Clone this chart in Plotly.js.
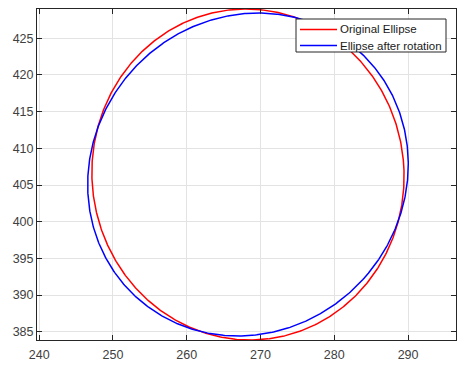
<!DOCTYPE html>
<html>
<head>
<meta charset="utf-8">
<script src="https://cdn.plot.ly/plotly-3.0.1.min.js"></script>
<style>
  html, body { margin: 0; padding: 0; background: #fff; }
  #plot { width: 457px; height: 365px; }
</style>
</head>
<body>
<div id="plot"></div>
<script>
// Ellipse definitions: centre, semi-axes and tilt of each curve
const seriesNames = ['Original Ellipse', 'Ellipse after rotation'];
const seriesColors = ['#ff0000', '#0000ff'];
const centerX = [268.3, 268.3];
const centerY = [406.43, 406.43];
const semiAxisX = [21.15, 21.15];
const semiAxisY = [22.56, 22.56];
const tiltDeg = [5.5, -39.5];

// Axis ticks
const xTicks = [240, 250, 260, 270, 280, 290];
const yTicks = [385, 390, 395, 400, 405, 410, 415, 420, 425];

// Trace the outline of an ellipse with the given parameters
function ellipseOutline(i, steps) {
  const th = tiltDeg[i] * Math.PI / 180;
  const c = Math.cos(th), s = Math.sin(th);
  const xs = [], ys = [];
  for (let k = 0; k <= steps; k++) {
    const t = 2 * Math.PI * k / steps;
    const u = semiAxisX[i] * Math.cos(t);
    const v = semiAxisY[i] * Math.sin(t);
    xs.push(centerX[i] + u * c - v * s);
    ys.push(centerY[i] + u * s + v * c);
  }
  return { xs, ys };
}

const traces = seriesNames.map((name, i) => {
  const o = ellipseOutline(i, 720);
  return {
    type: 'scatter',
    mode: 'lines',
    name: name,
    x: o.xs,
    y: o.ys,
    line: { color: seriesColors[i], width: 1.5 },
    showlegend: false
  };
});

// Figure geometry (pixels)
const W = 457, H = 365;
const M = { l: 37, r: 1, t: 9, b: 25 };
const plotW = W - M.l - M.r, plotH = H - M.t - M.b;
const px2x = p => (p - M.l) / plotW;
const px2y = p => 1 - (p - M.t) / plotH;

// Boxed legend in the upper right of the axes
const legendBox = { left: 296, right: 446, top: 19, bottom: 52 };
const legendRowY = [29.5, 45.5];
const legendLine = { x0: 300, x1: 337, textX: 339 };
const legendFont = { family: 'Liberation Sans, Arial, sans-serif', size: 11.5, color: '#1a1a1a' };

const shapes = [{
  type: 'rect', xref: 'paper', yref: 'paper', layer: 'above',
  x0: px2x(legendBox.left), x1: px2x(legendBox.right),
  y0: px2y(legendBox.bottom), y1: px2y(legendBox.top),
  fillcolor: '#ffffff', line: { color: '#262626', width: 1 }
}];
const annotations = [];
seriesNames.forEach((name, i) => {
  shapes.push({
    type: 'line', xref: 'paper', yref: 'paper', layer: 'above',
    x0: px2x(legendLine.x0), x1: px2x(legendLine.x1),
    y0: px2y(legendRowY[i]), y1: px2y(legendRowY[i]),
    line: { color: seriesColors[i], width: 1.5 }
  });
  annotations.push({
    xref: 'paper', yref: 'paper',
    x: px2x(legendLine.textX), y: px2y(legendRowY[i]),
    xanchor: 'left', yanchor: 'middle',
    text: name, showarrow: false,
    font: legendFont, borderpad: 0
  });
});

const axisCommon = {
  showline: true,
  linecolor: '#262626',
  linewidth: 1,
  mirror: 'ticks',
  ticks: 'inside',
  ticklen: 5,
  tickwidth: 1,
  tickcolor: '#262626',
  showgrid: true,
  gridcolor: '#e3e3e3',
  gridwidth: 1,
  zeroline: false,
  tickfont: { family: 'Liberation Sans, Arial, sans-serif', size: 12.5, color: '#404040' }
};

const layout = {
  width: W,
  height: H,
  margin: Object.assign({ pad: 0 }, M),
  paper_bgcolor: '#ffffff',
  plot_bgcolor: '#ffffff',
  showlegend: false,
  xaxis: Object.assign({}, axisCommon, {
    range: [239.7, 296.5],
    tickmode: 'array',
    tickvals: xTicks,
    ticktext: xTicks.map(String),
    ticklabelstandoff: 3
  }),
  yaxis: Object.assign({}, axisCommon, {
    range: [383.88, 428.98],
    tickmode: 'array',
    tickvals: yTicks,
    ticktext: yTicks.map(String)
  }),
  shapes: shapes,
  annotations: annotations
};

Plotly.newPlot('plot', traces, layout, { displayModeBar: false, staticPlot: true });
</script>
</body>
</html>
